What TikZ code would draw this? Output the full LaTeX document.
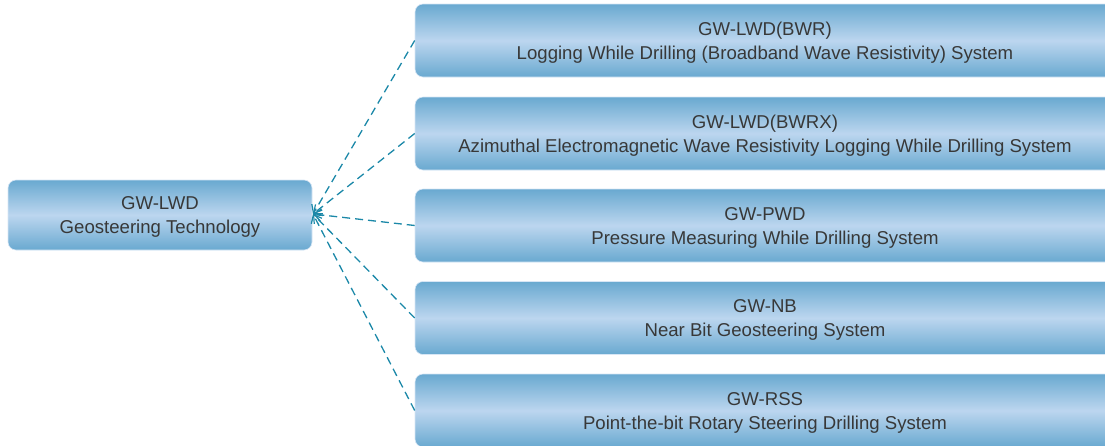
\documentclass[tikz,border=0pt]{standalone}
\usepackage{fontspec}
\setmainfont{Liberation Sans}
\usetikzlibrary{arrows.meta}
\definecolor{boxdark}{HTML}{69A9D0}
\definecolor{boxlight}{HTML}{BCD6EF}
\definecolor{txt}{HTML}{383838}
\definecolor{link}{HTML}{1B88A8}
\tikzset{
  box/.style={rounded corners=8pt, top color=boxdark, bottom color=boxdark, middle color=boxlight,
    draw=boxlight!60!white, line width=0.6pt, inner sep=0pt},
  rbox/.style={box, minimum width=720pt, minimum height=73pt},
  boxtext/.style={text=txt, align=center, inner sep=0pt, yshift=-2pt,
    font=\fontsize{18.6pt}{24pt}\selectfont},
  link/.style={draw=link, line width=1.3pt, dash pattern=on 8pt off 5pt,
    -{Straight Barb[length=7pt,width=12pt,line width=1.2pt]}}
}
\begin{document}
\begin{tikzpicture}[x=1pt,y=-1pt]
\useasboundingbox (0,0) rectangle (1105,445);
\node[box, minimum width=304pt, minimum height=70pt] (l) at (160,215) {};
\node[boxtext] (lt) at (l.center) {GW-LWD\\Geosteering Technology};
\node[rbox] (b1) at (775,40.5) {};
\node[rbox] (b2) at (775,133.5) {};
\node[rbox] (b3) at (775,225.5) {};
\node[rbox] (b4) at (775,318) {};
\node[rbox] (b5) at (775,410.5) {};
\node[boxtext] (t1) at ([xshift=-10pt]b1.center) {GW-LWD(BWR)\\Logging While Drilling (Broadband Wave Resistivity) System};
\node[boxtext] (t2) at ([xshift=-10pt]b2.center) {GW-LWD(BWRX)\\Azimuthal Electromagnetic Wave Resistivity Logging While Drilling System};
\node[boxtext] (t3) at ([xshift=-10pt]b3.center) {GW-PWD\\Pressure Measuring While Drilling System};
\node[boxtext] (t4) at ([xshift=-10pt]b4.center) {GW-NB\\Near Bit Geosteering System};
\node[boxtext] (t5) at ([xshift=-10pt]b5.center) {GW-RSS\\Point-the-bit Rotary Steering Drilling System};
\coordinate (tip) at (313,214);
\foreach \b in {b1,b2,b3,b4,b5} \draw[link] (\b.west) -- (tip);
\end{tikzpicture}
\end{document}
